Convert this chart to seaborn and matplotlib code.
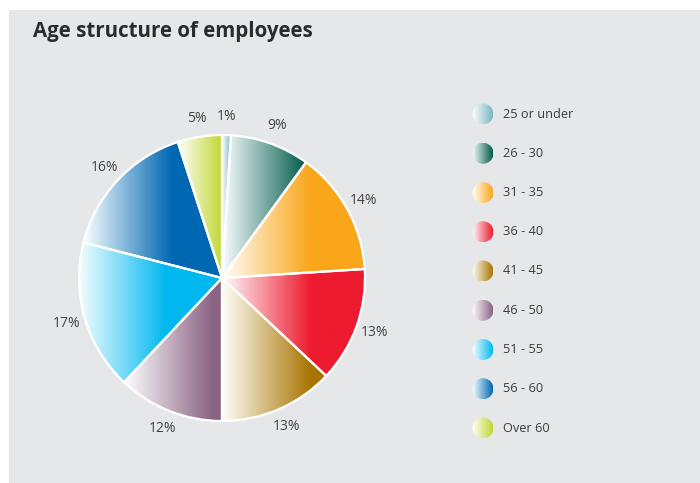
import numpy as np
import matplotlib
matplotlib.use("Agg")
import matplotlib.pyplot as plt
from matplotlib.colors import to_rgb
from matplotlib.patches import Rectangle, Circle
import seaborn as sns

# ---- data ----
categories = ["25 or under", "26 - 30", "31 - 35", "36 - 40", "41 - 45",
              "46 - 50", "51 - 55", "56 - 60", "Over 60"]
shares = [1, 9, 14, 13, 13, 12, 17, 16, 5]
colors = ["#7ab6c2", "#005a4b", "#f9a61a", "#ed1b2f", "#a87400",
          "#8a6384", "#00b8ef", "#0068b3", "#c0d630"]
title = "Age structure of employees"

sns.set_theme(style="white")
plt.rcParams["font.family"] = ["Open Sans", "DejaVu Sans"]

W, H = 700, 483
fig = plt.figure(figsize=(W / 100, H / 100), dpi=100)
fig.patch.set_facecolor("white")
fig.add_artist(Rectangle((9 / W, 0), 1 - 9 / W, 1 - 10 / H,
                         transform=fig.transFigure, facecolor="#e6e7e8",
                         edgecolor="none", zorder=0))

fig.text(33 / W, 1 - 32 / H, title, fontsize=14.8, fontweight="bold",
         color="#2b2b2b", va="center", ha="left")


def grad_image(color, n=256, ramp=0.7):
    c = np.array(to_rgb(color))
    light = 0.93 * np.ones(3) + 0.07 * c
    light = np.minimum(1.0, light + 0.05)
    t = np.linspace(0, 1, n)
    t = np.clip(t / ramp, 0, 1)
    row = light[None, :] * (1 - t[:, None]) + c[None, :] * t[:, None]
    return row[None, :, :]


# ---- pie ----
R = 143.0
lim = 1.2
cx, cy = 222, 278
half = lim * R
ax = fig.add_axes([(cx - half) / W, (H - cy - half) / H, 2 * half / W, 2 * half / H])
ax.set_facecolor("none")
wedges, texts, autotexts = ax.pie(
    shares, startangle=90, counterclock=False, radius=1,
    autopct=lambda p: f"{p:.0f}%", pctdistance=1.13,
    colors=colors,
    wedgeprops=dict(edgecolor="white", linewidth=1.6),
    textprops=dict(fontsize=10, color="#444444"))
ax.set_xlim(-lim, lim)
ax.set_ylim(-lim, lim)
ax.set_aspect("equal")
ax.axis("off")

for w, col in zip(wedges, colors):
    path = w.get_path()
    verts = w.get_patch_transform().transform(path.vertices)
    x0, x1 = verts[:, 0].min(), verts[:, 0].max()
    y0, y1 = verts[:, 1].min(), verts[:, 1].max()
    width = x1 - x0
    ramp = min(1.0, 0.62 / width) if width > 0 else 1.0
    im = ax.imshow(grad_image(col, ramp=ramp), extent=(x0, x1, y0, y1), aspect="auto",
                   interpolation="bilinear", zorder=1)
    im.set_clip_path(w)
    w.set_facecolor("none")
    w.set_zorder(2)
ax.set_xlim(-lim, lim)
ax.set_ylim(-lim, lim)

# ---- legend ----
lx0 = 470
lax = fig.add_axes([lx0 / W, 0, (W - lx0) / W, 1])
lax.set_xlim(lx0, W)
lax.set_ylim(H, 0)
lax.set_facecolor("none")
lax.axis("off")
ys = np.linspace(114, 428, len(categories))
rr = 10.5
for y, cat, col in zip(ys, categories, colors):
    circ = Circle((483, y), rr, facecolor="none", edgecolor="none")
    lax.add_patch(circ)
    im = lax.imshow(grad_image(col, ramp=1.0),
                    extent=(483 - rr, 483 + rr, y + rr, y - rr),
                    aspect="auto", interpolation="bilinear")
    im.set_clip_path(circ)
    lax.text(503, y, cat, fontsize=9.2, color="#3c3c3c", va="center", ha="left")
lax.set_xlim(lx0, W)
lax.set_ylim(H, 0)

fig.savefig("out.png", dpi=100, facecolor=fig.get_facecolor())
